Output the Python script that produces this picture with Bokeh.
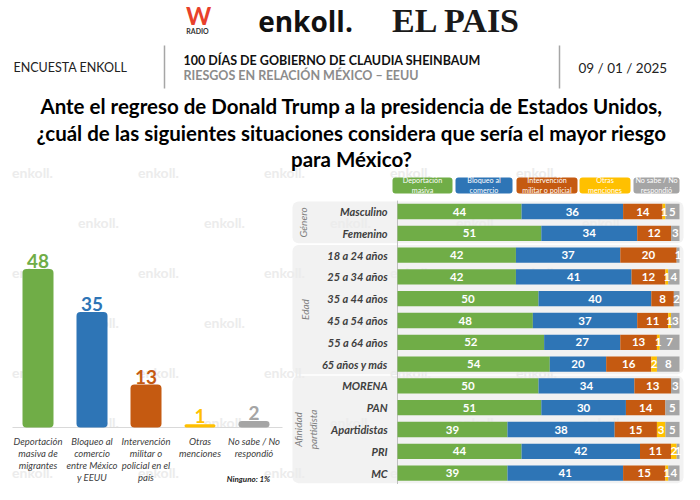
from bokeh.plotting import figure
from bokeh.models import Range1d, ColumnDataSource
from bokeh.core.properties import value
from bokeh.embed import file_html
from bokeh.resources import INLINE
import math

FONT = "Lato"

# ---------------- data ----------------
left_categories = ["Deportación\nmasiva de\nmigrantes",
                   "Bloqueo al\ncomercio\nentre México\ny EEUU",
                   "Intervención\nmilitar o\npolicial en el\npaís",
                   "Otras\nmenciones",
                   "No sabe / No\nrespondió"]
left_values = [48, 35, 13, 1, 2]
series_colors = ["#70AD47", "#2E75B6", "#C55A11", "#FFC000", "#A5A5A5"]
legend_labels = ["Deportación\nmasiva", "Bloqueo al\ncomercio", "Intervención\nmilitar o policial",
                 "Otras\nmenciones", "No sabe / No\nrespondió"]

rows = ["Masculino", "Femenino", "18 a 24 años", "25 a 34 años", "35 a 44 años", "45 a 54 años",
        "55 a 64 años", "65 años y más", "MORENA", "PAN", "Apartidistas", "PRI", "MC"]
deportacion = [44, 51, 42, 42, 50, 48, 52, 54, 50, 51, 39, 44, 39]
bloqueo = [36, 34, 37, 41, 40, 37, 27, 20, 34, 30, 38, 42, 41]
intervencion = [14, 12, 20, 12, 8, 11, 13, 16, 13, 14, 15, 11, 15]
otras = [1, 0, 0, 1, 0, 1, 1, 2, 0, 0, 3, 2, 1]
no_sabe = [5, 3, 1, 4, 2, 3, 7, 8, 3, 5, 5, 1, 4]
groups = ["Género", "Edad", "Afinidad\npartidista"]
group_sizes = [2, 6, 5]

title_lines = ["Ante el regreso de Donald Trump a la presidencia de Estados Unidos,",
               "¿cuál de las siguientes situaciones considera que sería el mayor riesgo",
               "para México?"]

# ---------------- figure (canvas in pixel units) ----------------
W, H = 684, 484
p = figure(width=W, height=H, x_range=Range1d(0, W), y_range=Range1d(H, 0),
           output_backend="svg", toolbar_location=None, min_border=0,
           x_axis_type=None, y_axis_type=None, title=None)
p.grid.visible = False
p.outline_line_color = None
p.background_fill_color = "white"
p.border_fill_color = "white"

# left chart: 54 px per category (first at x=37.5), 3.3 px per percent, baseline y=427
# right chart: 2.82 px per percent (0 at x=397), 21.8 px per row (first at y=211)
LX0, LDX, LY0, LDY = 37.5, 54.0, 427.0, 3.3
RX0, RDX, RY0, RDY = 397.0, 2.82, 211.0, 21.8
p.extra_x_ranges = {"lx": Range1d(-LX0 / LDX, (W - LX0) / LDX),
                    "rx": Range1d(-RX0 / RDX, (W - RX0) / RDX)}
p.extra_y_ranges = {"ly": Range1d(-(H - LY0) / LDY, LY0 / LDY),
                    "ry": Range1d((H - RY0) / RDY, -RY0 / RDY)}


def txt(x, y, t, size, color="#000000", style="normal", align="center", baseline="middle",
        angle=0.0, xr=None, yr=None, line_height=1.2, font=FONT, **kw):
    src = ColumnDataSource(dict(x=list(x), y=list(y), text=list(t)))
    extra = {}
    if xr:
        extra["x_range_name"] = xr
    if yr:
        extra["y_range_name"] = yr
    p.text(x="x", y="y", text="text", source=src, text_font=value(font),
           text_font_size=f"{size}px", text_font_style=style, text_color=color,
           text_align=align, text_baseline=baseline, angle=angle,
           text_line_height=line_height, **extra, **kw)


# ---------------- right chart panels ----------------
n = len(rows)
start = 0
for g, gs in zip(groups, group_sizes):
    p.quad(left=(292 - RX0) / RDX, right=(683 - RX0) / RDX, top=start - 0.46,
           bottom=start + gs - 1 + 0.46, fill_color="#f2f2f2", line_color=None,
           border_radius=6, x_range_name="rx", y_range_name="ry")
    start += gs

# ---------------- watermarks ----------------
wm_x, wm_y = [], []
for i, yy in enumerate([172, 222, 272, 322, 372, 422, 472]):
    x0 = 32 if i % 2 == 0 else 98
    for k in range(6):
        xx = x0 + 126 * k
        if xx + 26 < W:
            wm_x.append(xx)
            wm_y.append(yy)
txt(wm_x, wm_y, ["enkoll."] * len(wm_x), 14, color="#ececec", style="bold")

# ---------------- header ----------------
txt([198], [0], ["W"], 24, color="#E8412C", style="bold", baseline="top")
txt([197], [30], ["RADIO"], 7, color="#333333", style="bold")
txt([305], [1], ["enkoll."], 28, color="#111111", style="bold", font="Open Sans",
    baseline="top")
txt([456], [1], ["EL PAIS"], 34, color="#1a1a1a", style="bold", font="Liberation Serif",
    baseline="top")

txt([13], [67], ["ENCUESTA ENKOLL"], 12.5, color="#222222", align="left")
txt([183], [60], ["100 DÍAS DE GOBIERNO DE CLAUDIA SHEINBAUM"], 12.5, color="#111111",
    style="bold", align="left")
txt([183], [75], ["RIESGOS EN RELACIÓN MÉXICO – EEUU"], 12.5, color="#8c8c8c",
    style="bold", align="left")
txt([578], [67], ["09 / 01 / 2025"], 13.5, color="#222222", align="left")
p.segment(x0=[164, 559], y0=[45, 45], x1=[164, 559], y1=[88, 88], line_color="#a6a6a6",
          line_width=1.5)

txt([351, 351, 351], [105, 132, 158], title_lines, 20.5, color="#000000", style="bold")

# ---------------- left chart ----------------
idx = list(range(len(left_values)))
p.line(x=[(12 - LX0) / LDX, (282 - LX0) / LDX], y=[0, 0], line_color="#d9d9d9", line_width=1,
       x_range_name="lx", y_range_name="ly")
p.vbar(x=idx, top=left_values, bottom=0, width=31 / LDX, fill_color=series_colors,
       line_color=None, border_radius=4, x_range_name="lx", y_range_name="ly")
src_lv = ColumnDataSource(dict(x=idx, y=left_values, text=[str(v) for v in left_values],
                               c=series_colors))
p.text(x="x", y="y", text="text", source=src_lv, text_color="c", text_font=value(FONT),
       text_font_size="19px", text_font_style="bold", text_align="center",
       text_baseline="bottom", y_offset=-1, x_range_name="lx", y_range_name="ly")
txt(idx, [0] * len(idx), left_categories, 9.5, color="#404040", style="italic",
    baseline="top", xr="lx", yr="ly", line_height=1.12, y_offset=8)
txt([248], [478], ["Ninguno: 1%"], 8, color="#222222", style="bold italic")

# ---------------- right chart ----------------
ridx = list(range(n))
p.line(x=[0, 0], y=[-0.5, n - 0.5], line_color="#bfbfbf", line_width=1,
       x_range_name="rx", y_range_name="ry")
series = [deportacion, bloqueo, intervencion, otras, no_sabe]
lefts = [0] * n
lab_x, lab_y, lab_t = [], [], []
for s, c in zip(series, series_colors):
    rights = [l + v for l, v in zip(lefts, s)]
    p.hbar(y=ridx, left=lefts, right=rights, height=0.7, fill_color=c, line_color=None,
           x_range_name="rx", y_range_name="ry")
    for i, (l, r, v) in enumerate(zip(lefts, rights, s)):
        if v > 0:
            lab_x.append((l + r) / 2)
            lab_y.append(i)
            lab_t.append(str(v))
    lefts = rights
txt(lab_x, lab_y, lab_t, 11.5, color="#ffffff", style="bold", xr="rx", yr="ry")

txt([-3.5] * n, ridx, rows, 11, color="#404040", style="bold italic", align="right",
    xr="rx", yr="ry")

# group labels (rotated)
g_y, start = [], 0
for gs in group_sizes:
    g_y.append(start + (gs - 1) / 2)
    start += gs
txt([(302 - RX0) / RDX, (304 - RX0) / RDX, (305 - RX0) / RDX], g_y, groups, 10,
    color="#7f7f7f", style="italic", angle=math.pi / 2, xr="rx", yr="ry", line_height=1.25)

# legend boxes
leg_l = [392, 455, 516, 579, 633]
leg_r = [452, 512, 577, 630, 679]
p.quad(left=leg_l, right=leg_r, top=177, bottom=193, fill_color=series_colors,
       line_color=None, border_radius=3)
txt([(a + b) / 2 for a, b in zip(leg_l, leg_r)], [185] * 5, legend_labels, 7.2,
    color="#ffffff", line_height=1.05)

open("out.html", "w").write(file_html(p, INLINE))
